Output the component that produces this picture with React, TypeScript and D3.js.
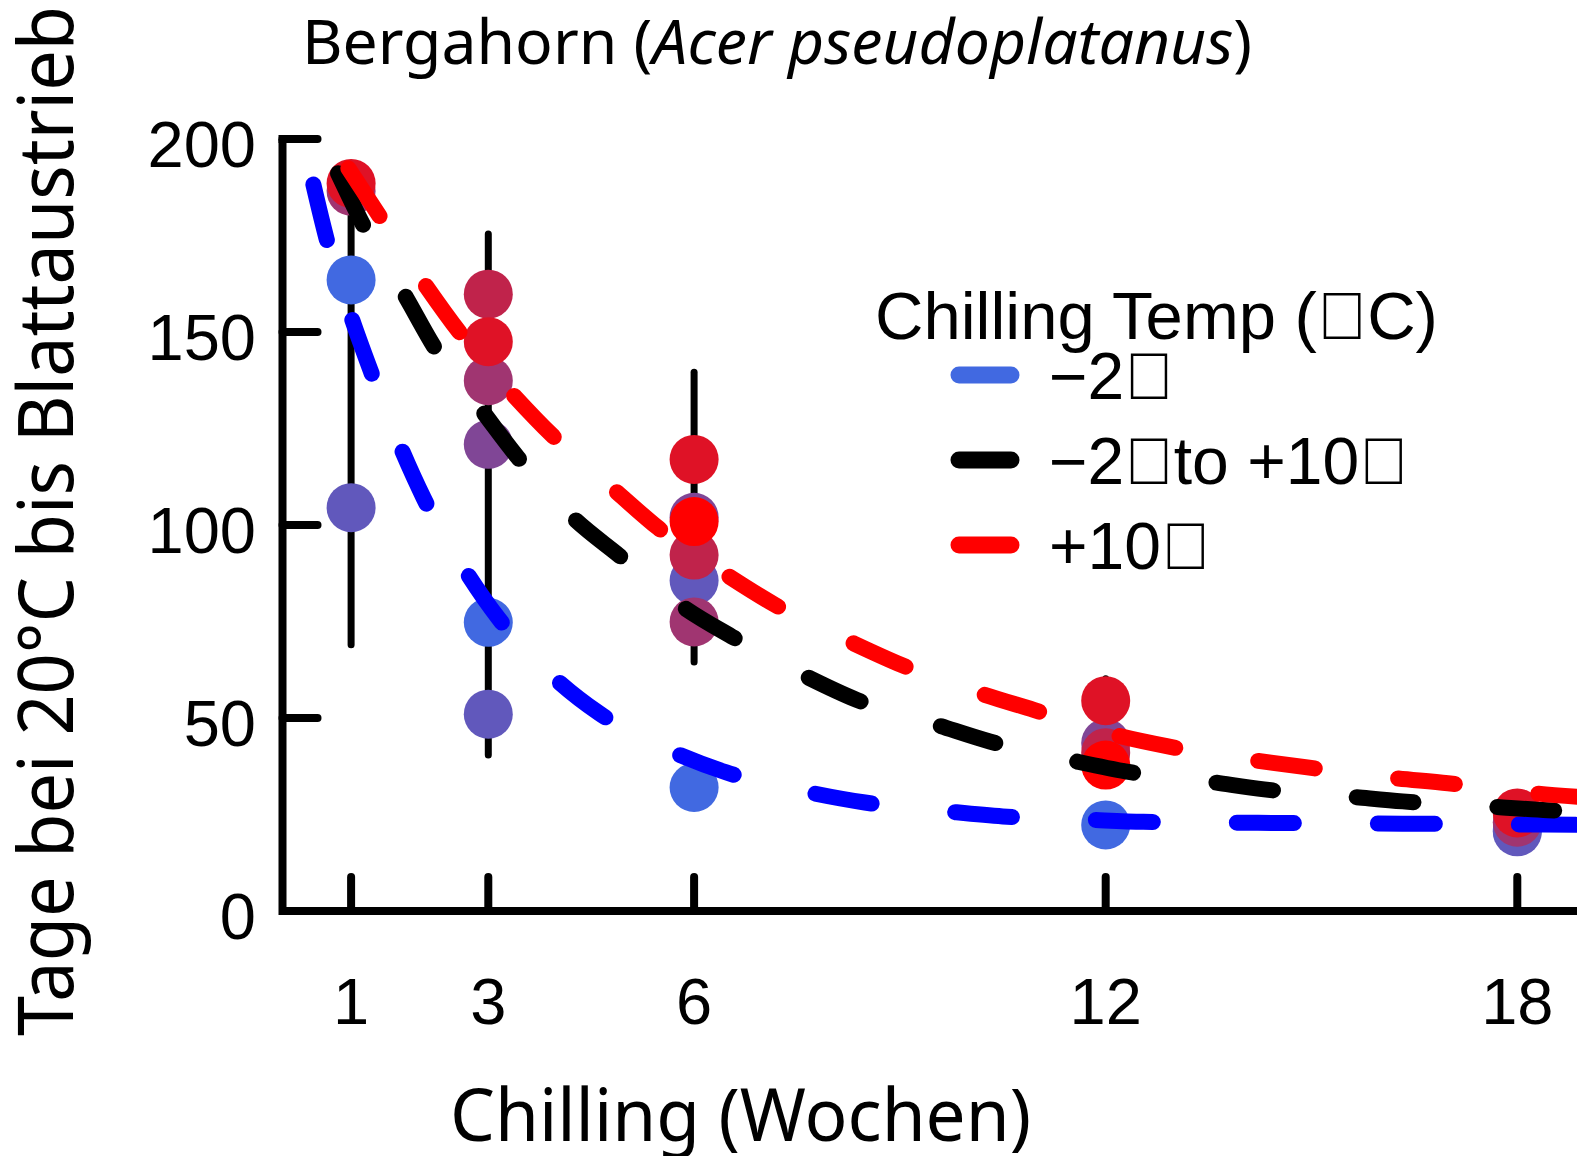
import React from "react";
import * as d3 from "d3";

// ---- data ----
const weeks = [1, 3, 6, 12, 18];
const xTickValues = [1, 3, 6, 12, 18];
const yTickValues = [0, 50, 100, 150, 200];

// observed means, one array per colour step (royalblue -> red); null = no point
const step0 = [163.5, 74.8, 32.0, 22.3, 21.0];
const step1 = [104.5, 51.0, 85.6, null, 20.5];
const step2 = [null, 120.9, 102.0, 43.5, null];
const step3 = [186.5, 137.4, 74.9, null, 23.0];
const step4 = [null, 159.8, 92.2, 41.0, null];
const step5 = [188.5, 147.5, 117.0, 54.5, 25.4];
const step6 = [null, null, 100.9, 37.8, null];

// error bars (low/high) per week
const errLow = [69.0, 40.4, 64.5, 35.0, 22.0];
const errHigh = [190.0, 175.4, 139.6, 60.2, 27.0];

// fitted curves as [week, days]
const curveMinus2: [number, number][] = [
  [0.45, 188.2], [0.64, 174.3], [1.01, 153.5], [1.28, 140.2], [1.74, 119.4],
  [2.06, 106.9], [2.69, 87.5], [3.15, 75.8], [4.0, 59.8], [4.62, 51.2],
  [5.7, 41.1], [6.47, 35.9], [7.68, 30.7], [8.49, 28.1], [9.69, 25.8],
  [10.5, 24.5], [11.69, 23.7], [12.55, 23.1], [14.5, 22.8], [16.6, 22.6], [19.0, 22.3],
];
const curveMixed: [number, number][] = [
  [0.81, 191.1], [1.2, 176.9], [1.81, 158.7], [2.21, 146.2], [2.94, 128.9],
  [3.44, 117.3], [4.27, 101.3], [4.9, 92.2], [5.87, 78.4], [6.55, 71.1],
  [7.64, 60.7], [8.37, 54.7], [9.54, 48.2], [10.31, 43.9], [11.48, 39.1],
  [12.38, 35.9], [13.47, 33.6], [14.31, 31.5], [15.53, 29.7], [16.33, 28.4],
  [17.58, 27.1], [18.45, 26.1], [19.0, 25.8],
];
const curvePlus10: [number, number][] = [
  [0.96, 192.4], [1.42, 179.9], [2.1, 161.7], [2.59, 149.7], [3.39, 133.2],
  [3.95, 122.9], [4.85, 108.9], [5.48, 99.2], [6.48, 87.0], [7.18, 79.3],
  [8.27, 69.8], [9.03, 63.7], [10.17, 56.4], [10.95, 52.1], [12.05, 46.0],
  [12.89, 42.7], [14.06, 39.3], [14.94, 37.2], [16.11, 34.6], [16.99, 33.1],
  [18.19, 30.6], [19.0, 29.4],
];

const TOFU = "\uE000";
const legendTitle = `Chilling Temp (${TOFU}C)`;
const legendLabels = [`\u22122${TOFU}`, `\u22122${TOFU}to +10${TOFU}`, `+10${TOFU}`];
const legendColors = ["royalblue", "black", "red"];
const curveColors = ["blue", "black", "red"];

const steps = [step0, step1, step2, step3, step4, step5, step6];

export default function App() {
  const W = 1577;
  const H = 1156;
  const x = d3.scaleLinear().domain([0, 19]).range([282.5, 282.5 + 19 * 68.6]);
  const y = d3.scaleLinear().domain([0, 200]).range([911, 139]);
  const color = (i: number) => d3.interpolateRgb("royalblue", "red")(i / 6);
  const line = d3
    .line<[number, number]>()
    .x((d) => x(d[0]))
    .y((d) => y(d[1]))
    .curve(d3.curveMonotoneX);
  const curves = [curveMinus2, curveMixed, curvePlus10];
  const tickFont = "'Liberation Sans', Arial, sans-serif";
  const labelFont = "'Noto Sans', 'Open Sans', sans-serif";

  return (
    <svg
      width={W}
      height={H}
      viewBox={`0 0 ${W} ${H}`}
      style={{ position: "absolute", left: 0, top: 0, background: "white" }}
    >
      <rect x={0} y={0} width={W} height={H} fill="white" />
      {/* title */}
      <text
        x={302}
        y={64}
        fontFamily={labelFont}
        fontSize={62}
        textLength={950}
        lengthAdjust="spacingAndGlyphs"
        fill="black"
      >
        Bergahorn (<tspan fontStyle="italic">Acer pseudoplatanus</tspan>)
      </text>

      {/* axes */}
      <path
        d={`M${x(0)},${y(200)} V${y(0)} H${x(19)}`}
        fill="none"
        stroke="black"
        strokeWidth={8}
        strokeLinejoin="miter"
      />
      {yTickValues
        .filter((v) => v > 0)
        .map((v) => (
          <line
            key={`yt${v}`}
            x1={x(0)}
            x2={x(0) + 35}
            y1={y(v)}
            y2={y(v)}
            stroke="black"
            strokeWidth={8}
            strokeLinecap="round"
          />
        ))}
      <line x1={x(0) - 4} x2={x(0) + 4} y1={y(200)} y2={y(200)} stroke="black" strokeWidth={8} />
      {xTickValues.map((v) => (
        <line
          key={`xt${v}`}
          x1={x(v)}
          x2={x(v)}
          y1={y(0)}
          y2={y(0) - 34}
          stroke="black"
          strokeWidth={8}
          strokeLinecap="round"
        />
      ))}
      {yTickValues.map((v) => (
        <text
          key={`yl${v}`}
          x={256}
          y={y(v) + 28}
          textAnchor="end"
          fontFamily={tickFont}
          fontSize={65}
          fill="black"
        >
          {v}
        </text>
      ))}
      {xTickValues.map((v) => (
        <text
          key={`xl${v}`}
          x={x(v)}
          y={1024}
          textAnchor="middle"
          fontFamily={tickFont}
          fontSize={65}
          fill="black"
        >
          {v}
        </text>
      ))}

      {/* axis labels */}
      <text
        x={740.5}
        y={1141}
        textAnchor="middle"
        fontFamily={labelFont}
        fontSize={73}
        textLength={581}
        lengthAdjust="spacingAndGlyphs"
        fill="black"
      >
        Chilling (Wochen)
      </text>
      <text
        transform="translate(73,521) rotate(-90)"
        textAnchor="middle"
        fontFamily={labelFont}
        fontSize={77}
        textLength={1030}
        lengthAdjust="spacingAndGlyphs"
        fill="black"
      >
        Tage bei 20°C bis Blattaustrieb
      </text>

      {/* error bars */}
      {weeks.map((w, i) => (
        <line
          key={`eb${w}`}
          x1={x(w)}
          x2={x(w)}
          y1={y(errLow[i])}
          y2={y(errHigh[i])}
          stroke="black"
          strokeWidth={7}
          strokeLinecap="round"
        />
      ))}

      {/* points */}
      {steps.map((vals, si) =>
        vals.map((v, wi) =>
          v == null ? null : (
            <circle key={`p${si}-${wi}`} cx={x(weeks[wi])} cy={y(v)} r={24.5} fill={color(si)} />
          )
        )
      )}

      {/* fitted curves */}
      {curves.map((c, ci) => (
        <path
          key={`c${ci}`}
          d={line(c) || ""}
          fill="none"
          stroke={curveColors[ci]}
          strokeWidth={16}
          strokeLinecap="round"
          strokeDasharray="57 84"
        />
      ))}

      {/* legend */}
      <text x={875} y={339} fontFamily={tickFont} fontSize={67} fill="black">
        {legendTitle}
      </text>
      {legendLabels.map((lab, i) => (
        <g key={`lg${i}`}>
          <line
            x1={959}
            x2={1011}
            y1={375 + i * 85}
            y2={375 + i * 85}
            stroke={legendColors[i]}
            strokeWidth={17}
            strokeLinecap="round"
          />
          <text x={1049} y={399 + i * 85} fontFamily={tickFont} fontSize={66} fill="black">
            {lab}
          </text>
        </g>
      ))}
    </svg>
  );
}
